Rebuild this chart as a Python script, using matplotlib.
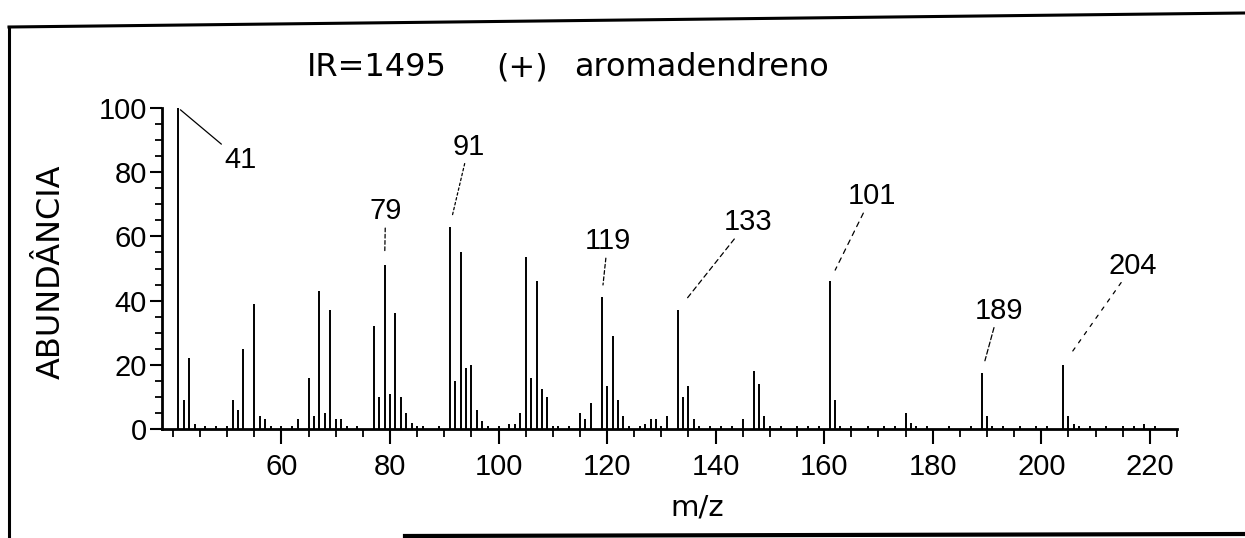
import matplotlib
matplotlib.use("Agg")
import matplotlib.pyplot as plt
from matplotlib.lines import Line2D
from matplotlib.ticker import MultipleLocator, FixedLocator

plt.rcParams['font.family'] = ['Liberation Sans', 'DejaVu Sans']

# ---- data (m/z, relative abundance %) ----
mz = [41, 42, 43, 44, 46, 48, 50, 51, 52, 53, 55, 56, 57, 58, 60, 62, 63, 65, 66, 67, 68, 69, 70,
      71, 72, 74, 77, 78, 79, 80, 81, 82, 83, 84, 85, 86, 89, 91, 92, 93, 94, 95, 96, 97, 98,
      100, 102, 103, 104, 105, 106, 107, 108, 109, 110, 111, 113, 115, 116, 117, 119, 120,
      121, 122, 123, 124, 126, 127, 128, 129, 130, 131, 133, 134, 135, 136, 137, 139, 141,
      143, 145, 147, 148, 149, 150, 152, 155, 157, 159, 161, 162, 163, 165, 168, 171, 173,
      175, 176, 177, 179, 183, 187, 189, 190, 191, 193, 196, 199, 201, 204, 205, 206, 207,
      209, 212, 215, 217, 219, 221]
abundance = [100, 9, 22, 1.5, 1, 1, 1, 9, 6, 25, 39, 4, 3, 1, 1, 1, 3, 16, 4, 43, 5, 37, 3,
             3, 1, 1, 32, 10, 51, 11, 36, 10, 5, 2, 1, 1, 1, 63, 15, 55, 19, 20, 6, 2.5, 1,
             1, 1.5, 1.5, 5, 53.5, 16, 46, 12.5, 10, 1, 1, 1, 5, 3, 8, 41, 13.5,
             29, 9, 4, 1, 1, 1.5, 3, 3, 1, 4, 37, 10, 13.5, 3, 1, 1, 1,
             1, 3, 18, 14, 4, 1, 1, 1, 1, 1, 46, 9, 1, 1, 1, 1, 1,
             5, 2, 1, 1, 1, 1, 17.5, 4, 1, 1, 1, 1, 1, 20, 4, 1.5, 1,
             1, 1, 1, 1, 1.5, 1]

label_mz = [41, 79, 91, 119, 133, 161, 189, 204]
label_text = ["41", "79", "91", "119", "133", "101", "189", "204"]

title_parts = ["IR=1495", "(+)", "aromadendreno"]
x_ticks = [60, 80, 100, 120, 140, 160, 180, 200, 220]
y_ticks = [0, 20, 40, 60, 80, 100]
x_label = "m/z"
y_label = "ABUNDÂNCIA"

# ---- layout ----
W, H = 1245, 538
fig = plt.figure(figsize=(W / 100, H / 100), dpi=100)
ax = fig.add_axes([162 / W, (H - 429) / H, (1177 - 162) / W, (429 - 108) / H])

ax.vlines(mz, 0, abundance, color='black', lw=1.4)
ax.set_xlim(38, 225)
ax.set_ylim(0, 100)

for s in ['top', 'right']:
    ax.spines[s].set_visible(False)
for s in ['left', 'bottom']:
    ax.spines[s].set_linewidth(2.0)

ax.xaxis.set_major_locator(FixedLocator(x_ticks))
ax.xaxis.set_minor_locator(MultipleLocator(5))
ax.yaxis.set_major_locator(FixedLocator(y_ticks))
ax.yaxis.set_minor_locator(MultipleLocator(5))
ax.tick_params(axis='x', which='major', direction='out', length=11, width=1.5,
               labelsize=21, pad=6)
ax.tick_params(axis='x', which='minor', direction='out', length=6, width=1.3)
ax.tick_params(axis='y', which='major', direction='out', length=9, width=1.5,
               labelsize=21, pad=2)
ax.tick_params(axis='y', which='minor', direction='out', length=5, width=1.3)

ax.set_xlabel(x_label, fontsize=21, family='DejaVu Sans')
ax.xaxis.label.set_va('center')
ax.xaxis.set_label_coords((697 - 162) / 1015, (429 - 508) / 321)
ax.set_ylabel(y_label, fontsize=23, family='DejaVu Sans')
ax.yaxis.label.set_va('center')
ax.yaxis.set_label_coords((51 - 162) / 1015, (429 - 272) / 321)

# title text (three pieces as spaced on the original)
title_x = [377, 522, 701]
for t, xp in zip(title_parts, title_x):
    fig.text(xp / W, 1 - 68 / H, t, fontsize=23, family='DejaVu Sans',
             ha='center', va='center')

# peak labels with leader lines (offsets in pixels from peak top)
offsets = [(62, -52), (1, 54), (19, 80), (6, 56), (70, 88), (42, 85), (17, 62), (70, 99)]
shrinks = [2, 9, 9, 9, 9, 9, 9, 9]
styles = ['-', (0, (3, 2)), (0, (2, 2)), (0, (3, 2)), (0, (4, 3)), (0, (4, 4)),
          (0, (4, 2)), (0, (3, 5))]
for m, t, off, sh, ls in zip(label_mz, label_text, offsets, shrinks, styles):
    h = abundance[mz.index(m)]
    ax.annotate(t, xy=(m, h), xytext=off, textcoords='offset pixels',
                ha='center', va='center', fontsize=21, annotation_clip=False,
                arrowprops=dict(arrowstyle='-', lw=0.9, linestyle=ls,
                                shrinkA=0, shrinkB=sh, color='black'))

# scanned page frame
fig.add_artist(Line2D([9 / W, 9 / W], [0, 1 - 27 / H], transform=fig.transFigure,
                      color='black', lw=2.2))
fig.add_artist(Line2D([9 / W, 1], [1 - 27 / H, 1 - 13 / H], transform=fig.transFigure,
                      color='black', lw=2.2))
fig.add_artist(Line2D([405 / W, 1], [1 - 536 / H, 1 - 534 / H], transform=fig.transFigure,
                      color='black', lw=3))

fig.savefig('out.png', dpi=100, facecolor='white')
